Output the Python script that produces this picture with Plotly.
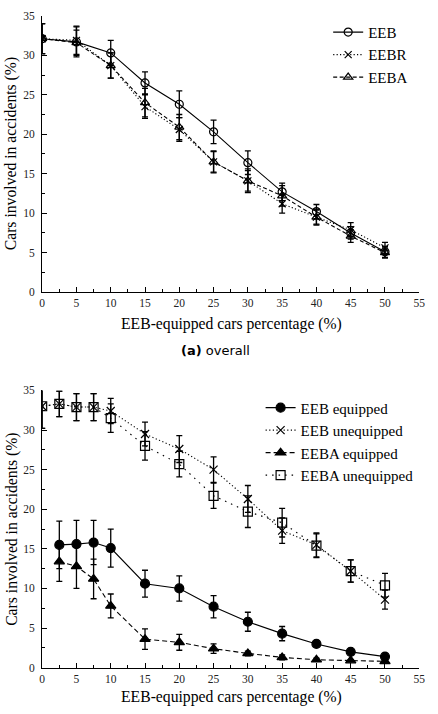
import plotly.graph_objects as go

# ---------------- data ----------------
x_overall = [0, 5, 10, 15, 20, 25, 30, 35, 40, 45, 50]
eeb = [32.1, 31.7, 30.3, 26.5, 23.8, 20.3, 16.4, 12.7, 10.2, 7.5, 5.1]
eeb_err = [1.9, 1.9, 1.6, 1.4, 1.7, 1.5, 1.5, 1.1, 0.9, 0.8, 0.7]
eebr = [32.1, 31.9, 28.7, 23.5, 20.6, 16.5, 14.1, 11.2, 9.5, 7.9, 5.6]
eebr_err = [1.9, 1.8, 1.6, 1.5, 1.5, 1.4, 1.3, 1.2, 1.0, 0.9, 0.7]
eeba = [32.1, 31.6, 28.7, 24.0, 20.9, 16.5, 14.1, 12.2, 9.5, 7.1, 5.0]
eeba_err = [1.9, 1.6, 1.6, 1.8, 1.6, 1.3, 1.5, 1.3, 0.9, 0.8, 0.7]

x_equipped = [2.5, 5, 7.5, 10, 15, 20, 25, 30, 35, 40, 45, 50]
x_unequipped = [0, 2.5, 5, 7.5, 10, 15, 20, 25, 30, 35, 40, 45, 50]
eeb_eq = [15.5, 15.6, 15.8, 15.1, 10.6, 10.0, 7.7, 5.8, 4.3, 3.0, 2.0, 1.4]
eeb_eq_err = [3.0, 3.0, 2.8, 2.4, 1.7, 1.6, 1.4, 1.2, 0.9, 0.4, 0.2, 0.2]
eeb_uneq = [33.0, 33.3, 32.9, 32.9, 32.4, 29.5, 27.6, 25.0, 21.3, 17.3, 15.5, 12.2, 8.6]
eeb_uneq_err = [2.8, 1.6, 1.7, 1.7, 1.6, 1.5, 1.7, 1.6, 1.7, 1.6, 1.5, 1.4, 1.2]
eeba_eq = [13.4, 12.8, 11.2, 7.8, 3.6, 3.2, 2.4, 1.8, 1.3, 1.0, 0.9, 0.8]
eeba_eq_err = [2.5, 2.8, 2.5, 1.5, 1.3, 1.0, 0.6, 0.3, 0.3, 0.2, 0.1, 0.1]
eeba_uneq = [33.0, 33.3, 32.9, 32.9, 31.5, 28.0, 25.7, 21.7, 19.7, 18.3, 15.4, 12.2, 10.4]
eeba_uneq_err = [2.8, 1.6, 1.7, 1.7, 1.8, 1.8, 1.6, 1.6, 2.0, 1.8, 1.5, 1.4, 1.5]

x_ticks = [0, 5, 10, 15, 20, 25, 30, 35, 40, 45, 50, 55]
y_ticks = [0, 5, 10, 15, 20, 25, 30, 35]

SERIF = "Liberation Serif"
W, H = 438, 714


def err(vals):
    return dict(type="data", array=vals, visible=True, color="black",
                thickness=1.3, width=3)


fig = go.Figure()

top = [
    ("EEB", x_overall, eeb, eeb_err, "circle-open", 8, "solid"),
    ("EEBR", x_overall, eebr, eebr_err, "x-thin-open", 7, "1.2px,2.2px"),
    ("EEBA", x_overall, eeba, eeba_err, "triangle-up-open", 8, "4px,2.5px"),
]
for name, xs, ys, es, sym, sz, dash in top:
    fig.add_trace(go.Scatter(
        x=xs, y=ys, name=name, mode="lines+markers", xaxis="x", yaxis="y",
        legend="legend",
        line=dict(color="black", width=1.1, dash=dash),
        marker=dict(symbol=sym, size=sz, color="black",
                    line=dict(color="black", width=1.2)),
        error_y=err(es)))

bottom = [
    ("EEB equipped", x_equipped, eeb_eq, eeb_eq_err, "circle", 9, "solid"),
    ("EEB unequipped", x_unequipped, eeb_uneq, eeb_uneq_err, "x-thin-open", 8, "1.2px,2.4px"),
    ("EEBA equipped", x_equipped, eeba_eq, eeba_eq_err, "triangle-up", 9, "5px,3px"),
    ("EEBA unequipped", x_unequipped, eeba_uneq, eeba_uneq_err, "square-open", 9, "1.5px,5px"),
]
for name, xs, ys, es, sym, sz, dash in bottom:
    fig.add_trace(go.Scatter(
        x=xs, y=ys, name=name, mode="lines+markers", xaxis="x2", yaxis="y2",
        legend="legend2",
        line=dict(color="black", width=1.1, dash=dash),
        marker=dict(symbol=sym, size=sz, color="black",
                    line=dict(color="black", width=1.2)),
        error_y=err(es)))

axis_common = dict(
    showline=True, linecolor="black", linewidth=1.2, showgrid=False,
    zeroline=False, ticks="inside", ticklen=5, tickwidth=1, tickcolor="black",
    tickfont=dict(family=SERIF, size=11.5, color="#222"),
    minor=dict(ticks="inside", ticklen=3, tickwidth=1, tickcolor="black", dtick=2.5),
    fixedrange=True,
)

xdom = [40 / W, 425 / W]
fig.update_layout(
    width=W, height=H, margin=dict(l=0, r=0, t=0, b=0),
    paper_bgcolor="white", plot_bgcolor="white",
    xaxis=dict(domain=xdom, range=[0, 55], tickvals=x_ticks, anchor="y", **axis_common),
    yaxis=dict(domain=[(H - 291) / H, (H - 10) / H], range=[0, 35], tickvals=y_ticks,
               anchor="x", ticklabelstandoff=4, **axis_common),
    xaxis2=dict(domain=xdom, range=[0, 55], tickvals=x_ticks, anchor="y2", **axis_common),
    yaxis2=dict(domain=[(H - 673) / H, (H - 391) / H], range=[0, 35], tickvals=y_ticks,
                anchor="x2", ticklabelstandoff=4, **axis_common),
    legend=dict(x=(374 - 42) / W, y=(H - 10) / H, xanchor="left", yanchor="top",
                font=dict(family=SERIF, size=15, color="black"),
                bgcolor="rgba(0,0,0,0)", tracegroupgap=0),
    legend2=dict(x=(305 - 42) / W, y=(H - 392) / H, xanchor="left", yanchor="top",
                 font=dict(family=SERIF, size=15, color="black"),
                 bgcolor="rgba(0,0,0,0)", tracegroupgap=0),
    showlegend=True,
)

title_font = dict(family=SERIF, size=15.7, color="black")
ann = [
    dict(text="EEB-equipped cars percentage (%)", x=233 / W, y=(H - 323) / H),
    dict(text="Cars involved in accidents (%)", x=9 / W, y=(H - 150) / H, textangle=-90),
    dict(text="EEB-equipped cars percentage (%)", x=233 / W, y=(H - 703) / H),
    dict(text="Cars involved in accidents (%)", x=9 / W, y=(H - 532) / H, textangle=-90),
]
for a in ann:
    fig.add_annotation(xref="paper", yref="paper", showarrow=False,
                       xanchor="center", yanchor="middle", font=title_font, **a)
fig.add_annotation(xref="paper", yref="paper", showarrow=False, xanchor="center",
                   yanchor="middle", x=217 / W, y=(H - 350) / H,
                   text="<b>(a)</b> overall",
                   font=dict(family="DejaVu Sans", size=13, color="black"))

fig.write_html("out.html")
